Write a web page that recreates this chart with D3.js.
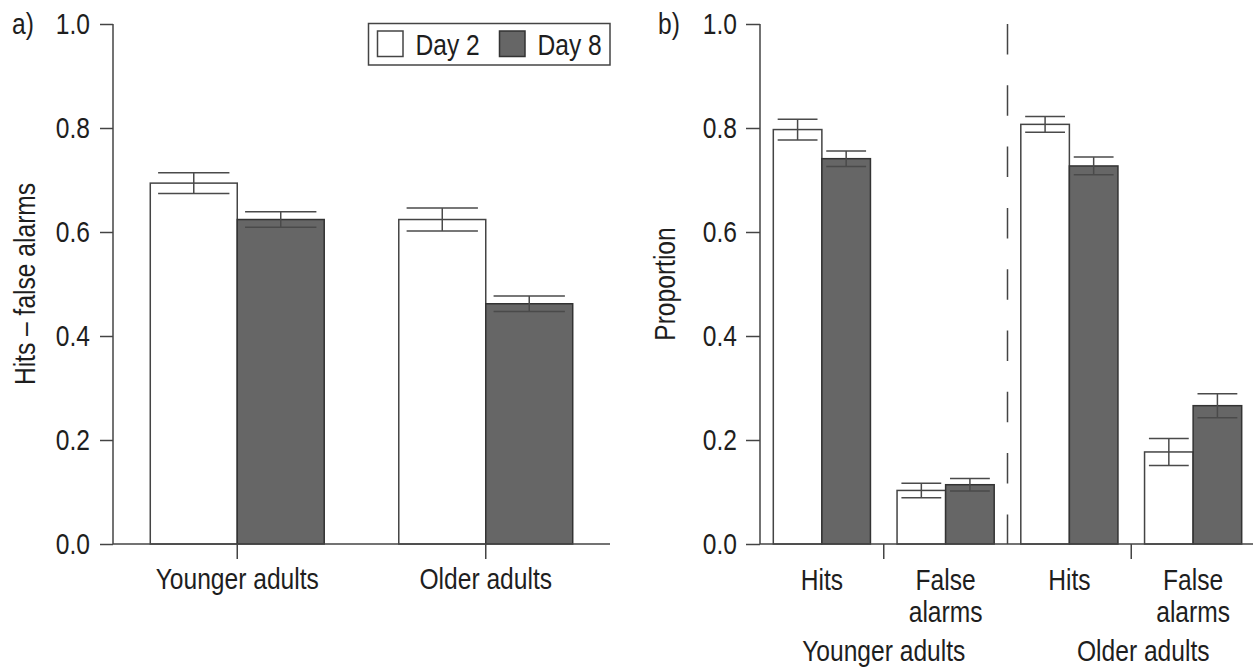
<!DOCTYPE html>
<html>
<head>
<meta charset="utf-8">
<script src="https://cdn.jsdelivr.net/npm/d3@7"></script>
<style>
  html, body { margin: 0; padding: 0; background: #fff; }
  svg { display: block; }
  text { font-family: "Liberation Sans", Arial, Helvetica, sans-serif; fill: #1e1e1e; }
</style>
</head>
<body>
<svg id="chart" width="1253" height="671"></svg>
<script>
// ---------- data ----------
const seriesNames = ["Day 2", "Day 8"];
const yTicks = [0, 0.2, 0.4, 0.6, 0.8, 1.0];

// Panel a
const panelACategories = ["Younger adults", "Older adults"];
const panelADay2 = [0.694, 0.624];
const panelADay8 = [0.624, 0.462];
const panelADay2Err = [0.020, 0.022];
const panelADay8Err = [0.015, 0.015];

// Panel b
const panelBCategories = ["Younger Hits", "Younger False alarms", "Older Hits", "Older False alarms"];
const panelBCategoryLabels = [["Hits"], ["False", "alarms"], ["Hits"], ["False", "alarms"]];
const panelBGroups = ["Younger adults", "Older adults"];
const panelBDay2 = [0.797, 0.103, 0.807, 0.177];
const panelBDay8 = [0.741, 0.114, 0.727, 0.266];
const panelBDay2Err = [0.020, 0.014, 0.015, 0.026];
const panelBDay8Err = [0.015, 0.012, 0.017, 0.023];

// ---------- styles ----------
const FONT = 30;
const SQUEEZE = 0.82;   // horizontal condensing of the typeface
const fills = { "Day 2": "#ffffff", "Day 8": "#666666" };
const strokes = { "Day 2": "#444444", "Day 8": "#333333" };
const axisColor = "#444";

const svg = d3.select("#chart");
const y = d3.scaleLinear().domain([0, 1]).range([544, 24]);
const fmt = d3.format(".1f");

function buildRows(cats, d2, d8, e2, e8) {
  return cats.map((c, i) => ({
    cat: c,
    values: [
      { series: "Day 2", value: d2[i], err: e2[i] },
      { series: "Day 8", value: d8[i], err: e8[i] }
    ]
  }));
}

function drawYAxis(g, xPos, tickLen, labelGap) {
  const axis = d3.axisLeft(y).tickValues(yTicks).tickFormat(fmt).tickSize(tickLen).tickPadding(labelGap);
  const ag = g.append("g").attr("transform", `translate(${xPos},0)`).call(axis);
  ag.attr("font-family", null).attr("font-size", null);
  ag.select(".domain").attr("stroke", axisColor).attr("stroke-width", 1.5).attr("d", `M0,${y(1)}V${y(0)}`);
  ag.selectAll(".tick line").attr("stroke", axisColor).attr("stroke-width", 1.5);
  ag.selectAll(".tick text").attr("font-size", FONT).attr("fill", "#1e1e1e");
  return ag;
}

function drawBars(g, rows, x0, x1) {
  const grp = g.selectAll(".grp").data(rows).join("g")
    .attr("transform", d => `translate(${x0(d.cat)},0)`);
  grp.selectAll("rect").data(d => d.values).join("rect")
    .attr("x", d => x1(d.series))
    .attr("y", d => y(d.value))
    .attr("width", x1.bandwidth())
    .attr("height", d => y(0) - y(d.value))
    .attr("fill", d => fills[d.series])
    .attr("stroke", d => strokes[d.series])
    .attr("stroke-width", 1.5);
  const capW = x1.bandwidth() * 0.82;
  const eb = grp.selectAll(".eb").data(d => d.values).join("g").attr("class", "eb")
    .attr("stroke", "#4a4a4a").attr("stroke-width", 1.5);
  eb.append("line")
    .attr("x1", d => x1(d.series) + x1.bandwidth() / 2)
    .attr("x2", d => x1(d.series) + x1.bandwidth() / 2)
    .attr("y1", d => y(d.value + d.err))
    .attr("y2", d => y(d.value - d.err));
  eb.append("line")
    .attr("x1", d => x1(d.series) + (x1.bandwidth() - capW) / 2)
    .attr("x2", d => x1(d.series) + (x1.bandwidth() + capW) / 2)
    .attr("y1", d => y(d.value + d.err))
    .attr("y2", d => y(d.value + d.err));
  eb.append("line")
    .attr("x1", d => x1(d.series) + (x1.bandwidth() - capW) / 2)
    .attr("x2", d => x1(d.series) + (x1.bandwidth() + capW) / 2)
    .attr("y1", d => y(d.value - d.err))
    .attr("y2", d => y(d.value - d.err));
}

// ================= Panel a =================
const gA = svg.append("g");
const xA = d3.scaleBand().domain(panelACategories).range([113, 610]).paddingInner(0.3).paddingOuter(0.15);
const xA1 = d3.scaleBand().domain(seriesNames).range([0, xA.bandwidth()]);
const rowsA = buildRows(panelACategories, panelADay2, panelADay8, panelADay2Err, panelADay8Err);

drawBars(gA, rowsA, xA, xA1);

// x axis a
const axA = d3.axisBottom(xA).tickSize(15).tickPadding(7);
const agA = gA.append("g").attr("transform", `translate(0,${y(0)})`).call(axA);
agA.attr("font-family", null).attr("font-size", null);
agA.select(".domain").attr("stroke", axisColor).attr("stroke-width", 1.5).attr("d", `M113,0H610`);
agA.selectAll(".tick line").attr("stroke", axisColor).attr("stroke-width", 1.5);
agA.selectAll(".tick text").attr("font-size", FONT).attr("fill", "#1e1e1e")
  .attr("dy", null).attr("y", 45);

drawYAxis(gA, 113, 13, 10);

gA.append("text").attr("transform", `translate(35,${(y(0) + y(1)) / 2}) rotate(-90)`)
  .attr("text-anchor", "middle").attr("font-size", FONT).text("Hits \u2013 false alarms");
gA.append("text").attr("x", 12).attr("y", 34).attr("font-size", FONT).text("a)");

// legend
const leg = gA.append("g");
leg.append("rect").attr("x", 368.5).attr("y", 23.5).attr("width", 241.5).attr("height", 41.5)
  .attr("fill", "#fff").attr("stroke", "#444").attr("stroke-width", 1.5);
const legX = [377.5, 499.5];
seriesNames.forEach((s, i) => {
  leg.append("rect").attr("x", legX[i]).attr("y", 31).attr("width", 25.5).attr("height", 25.5)
    .attr("fill", fills[s]).attr("stroke", strokes[s]).attr("stroke-width", 1.5);
  leg.append("text").attr("x", legX[i] + 38).attr("y", 55).attr("font-size", FONT).text(s);
});

// ================= Panel b =================
const gB = svg.append("g");
const xB = d3.scaleBand().domain(panelBCategories).range([760, 1255]).paddingInner(0.215).paddingOuter(0.1075);
const xB1 = d3.scaleBand().domain(seriesNames).range([0, xB.bandwidth()]);
const rowsB = buildRows(panelBCategories, panelBDay2, panelBDay8, panelBDay2Err, panelBDay8Err);

drawBars(gB, rowsB, xB, xB1);

// x axis baseline b
gB.append("line").attr("x1", 760).attr("x2", 1253).attr("y1", y(0)).attr("y2", y(0))
  .attr("stroke", axisColor).attr("stroke-width", 1.5);

// category labels
panelBCategories.forEach((c, i) => {
  const cx = xB(c) + xB.bandwidth() / 2;
  const t = gB.append("text").attr("text-anchor", "middle").attr("font-size", FONT).attr("x", cx);
  panelBCategoryLabels[i].forEach((ln, j) => {
    t.append("tspan").attr("x", cx).attr("y", 590 + j * 32).text(ln);
  });
});

// group ticks & labels
const groupLabelDx = [0, 12];
panelBGroups.forEach((gname, gi) => {
  const c0 = panelBCategories[gi * 2], c1 = panelBCategories[gi * 2 + 1];
  const gx = (xB(c0) + xB(c1)) / 2 + xB.bandwidth() / 2;
  gB.append("line").attr("x1", gx).attr("x2", gx).attr("y1", y(0)).attr("y2", y(0) + 15)
    .attr("stroke", axisColor).attr("stroke-width", 1.5);
  gB.append("text").attr("x", gx + groupLabelDx[gi]).attr("y", 661).attr("text-anchor", "middle")
    .attr("font-size", FONT).text(gname);
});

// dashed separator
{
  const right = xB(panelBCategories[1]) + xB.bandwidth();
  const left = xB(panelBCategories[2]);
  const sx = (right + left) / 2;
  gB.append("line").attr("x1", sx).attr("x2", sx).attr("y1", y(1)).attr("y2", y(0))
    .attr("stroke", "#444").attr("stroke-width", 1.5).attr("stroke-dasharray", "30.5,30.8");
}

drawYAxis(gB, 760, 14, 9);

gB.append("text").attr("transform", `translate(675,${(y(0) + y(1)) / 2}) rotate(-90)`)
  .attr("text-anchor", "middle").attr("font-size", FONT).text("Proportion");
gB.append("text").attr("x", 658).attr("y", 34).attr("font-size", FONT).text("b)");

// ---------- condense all text horizontally (narrow typeface look) ----------
svg.selectAll("text").each(function () {
  const t = d3.select(this);
  const tr = t.attr("transform") || "";
  const ax = t.attr("x") != null ? +t.attr("x") : 0;
  t.attr("transform", `${tr} translate(${ax},0) scale(${SQUEEZE},1) translate(${-ax},0)`.trim());
});
</script>
</body>
</html>
